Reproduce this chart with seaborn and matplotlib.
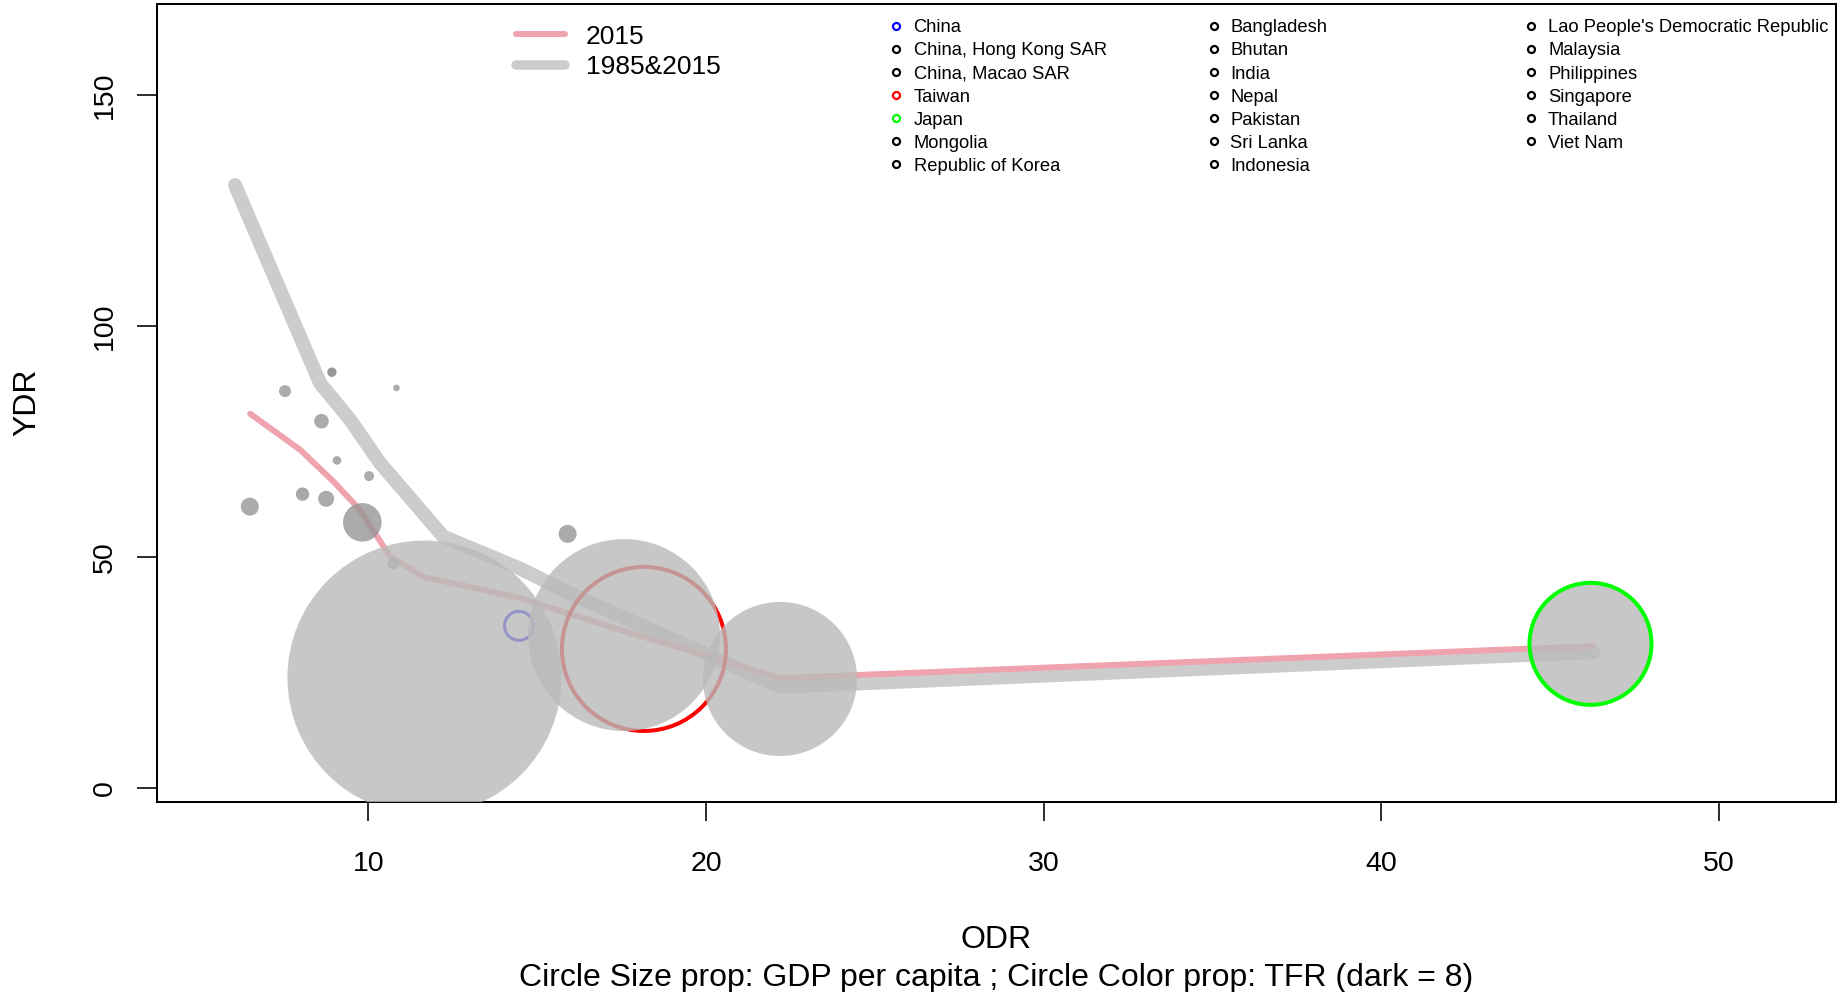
import matplotlib
matplotlib.use("Agg")
import matplotlib.pyplot as plt
import numpy as np
import pandas as pd
import seaborn as sns
from matplotlib.lines import Line2D

# ---------------------------------------------------------------------------
# Data
# ---------------------------------------------------------------------------
# Smoothed YDR ~ ODR curve over both years (1985 & 2015)
curve_all_odr = [6.05, 8.57, 9.46, 10.15, 10.35, 12.22, 14.49, 16.17, 22.19, 46.27]
curve_all_ydr = [130.5, 87.6, 79.7, 72.4, 70.3, 54.4, 47.5, 41.4, 21.9, 29.4]

# Smoothed YDR ~ ODR curve for 2015 only
curve_2015_odr = [6.50, 7.98, 8.97, 9.75, 10.64, 11.63, 14.49, 17.46, 20.72, 22.19, 46.24]
curve_2015_ydr = [81.0, 73.2, 66.3, 60.2, 50.1, 45.7, 41.1, 34.2, 27.1, 23.8, 30.7]

# Country bubbles (2015): old-age / young dependency ratio, GDP per capita, TFR
bubble_odr = [6.49, 7.53, 8.05, 8.61, 8.75, 8.92, 9.07, 10.02, 10.83, 9.82, 15.90, 10.74,
              11.66, 17.57, 22.19, 46.19]
bubble_ydr = [60.9, 85.9, 63.6, 79.4, 62.6, 90.0, 70.9, 67.5, 86.6, 57.5, 55.0, 48.6,
              23.9, 33.1, 23.6, 31.2]
bubble_gdp = [5090, 3390, 3790, 4130, 4520, 2660, 2430, 2830, 1870, 10900, 5090, 3390,
              77500, 54300, 43600, 34500]
bubble_tfr = [3.3, 3.3, 3.4, 3.3, 3.3, 4.0, 3.3, 3.2, 3.3, 3.3, 3.3, 3.4,
              2.16, 2.16, 2.16, 2.16]

# Highlighted economies drawn as coloured rings
ring_names = ["China", "Taiwan", "Japan"]
ring_odr = [14.46, 18.16, 46.19]
ring_ydr = [35.1, 30.1, 31.2]
ring_gdp = [8200, 46400, 34500]
ring_colors = ["#0000FF", "#FF0000", "#00FF00"]

# Legend of economies (three columns)
legend_countries = [
    "China", "China, Hong Kong SAR", "China, Macao SAR", "Taiwan", "Japan", "Mongolia",
    "Republic of Korea",
    "Bangladesh", "Bhutan", "India", "Nepal", "Pakistan", "Sri Lanka", "Indonesia",
    "Lao People's Democratic Republic", "Malaysia", "Philippines", "Singapore",
    "Thailand", "Viet Nam",
]
legend_rows_per_col = 7

# ---------------------------------------------------------------------------
# Styling helpers
# ---------------------------------------------------------------------------
DPI = 100
W, H = 1839, 992
RADIUS_PX_PER_USD = 61.0 / 34500.0   # bubble radius proportional to GDP per capita
BUBBLE_ALPHA = 0.8


def pt(px):
    return px * 72.0 / DPI


def bubble_area(gdp):
    r_px = np.asarray(gdp, dtype=float) * RADIUS_PX_PER_USD
    return (2 * pt(r_px)) ** 2


sns.set_style("ticks", {"axes.edgecolor": "black", "xtick.color": "black",
                        "ytick.color": "black", "text.color": "black",
                        "axes.labelcolor": "black"})
plt.rcParams["font.family"] = ["Liberation Sans", "DejaVu Sans"]

fig = plt.figure(figsize=(W / DPI, H / DPI), dpi=DPI)
ax = fig.add_axes([157 / W, 1 - 802 / H, (1836 - 157) / W, (802 - 3.5) / H])

# ---------------------------------------------------------------------------
# Curves
# ---------------------------------------------------------------------------
sns.lineplot(x=curve_all_odr, y=curve_all_ydr, sort=False, estimator=None,
             color="#CCCCCC", linewidth=pt(14), solid_capstyle="round",
             solid_joinstyle="round", ax=ax, zorder=2)
sns.lineplot(x=curve_2015_odr, y=curve_2015_ydr, sort=False, estimator=None,
             color="#EFA3AE", linewidth=pt(6), solid_capstyle="round",
             solid_joinstyle="round", ax=ax, zorder=2.1)

# ---------------------------------------------------------------------------
# Bubbles
# ---------------------------------------------------------------------------
bubbles = pd.DataFrame({"odr": bubble_odr, "ydr": bubble_ydr,
                        "gdp": bubble_gdp, "tfr": bubble_tfr})
rings = pd.DataFrame({"name": ring_names, "odr": ring_odr, "ydr": ring_ydr,
                      "gdp": ring_gdp, "color": ring_colors})
grey_cmap = matplotlib.colormaps["gray_r"]


def draw_bubbles(part, z):
    sns.scatterplot(data=part, x="odr", y="ydr", hue="tfr", hue_norm=(0, 8),
                    palette=grey_cmap, s=bubble_area(part["gdp"]),
                    alpha=BUBBLE_ALPHA, linewidth=0, edgecolor="none",
                    legend=False, ax=ax, zorder=z)


def draw_rings(part, widths_px, z):
    sns.scatterplot(data=part, x="odr", y="ydr", s=bubble_area(part["gdp"]),
                    facecolors="none", edgecolor=list(part["color"]),
                    linewidth=[pt(w) for w in widths_px], legend=False, ax=ax, zorder=z)


draw_bubbles(bubbles[bubbles["gdp"] < 20000], 3.0)
draw_rings(rings[rings["name"] != "Japan"], [3, 4], 3.1)
draw_bubbles(bubbles[bubbles["gdp"] >= 20000], 3.2)
draw_rings(rings[rings["name"] == "Japan"], [4], 3.3)

# ---------------------------------------------------------------------------
# Axes
# ---------------------------------------------------------------------------
ax.set_xlim(3.74, 53.46)
ax.set_ylim(-3.03, 169.8)
ax.set_xticks([10, 20, 30, 40, 50])
ax.set_yticks([0, 50, 100, 150])
for s in ax.spines.values():
    s.set_visible(True)
    s.set_linewidth(pt(2))
    s.set_color("black")
ax.tick_params(axis="x", direction="out", length=pt(19), width=pt(1.6),
               labelsize=20.5, pad=21.5)
ax.tick_params(axis="y", direction="out", length=pt(20), width=pt(1.6),
               labelsize=20.5, pad=13.7, labelrotation=90)
plt.setp(ax.get_yticklabels(), va="center")

ax.set_xlabel("ODR", fontsize=23, va="center")
ax.xaxis.set_label_coords(0.5, -0.1733)
ax.set_ylabel("YDR", fontsize=23, va="center")
ax.yaxis.set_label_coords(-0.0774, 0.5)

fig.text((157 + 1836) / 2 / W, 1 - 978 / H,
         "Circle Size prop: GDP per capita ; Circle Color prop: TFR (dark = 8)",
         ha="center", va="center", fontsize=23)

# ---------------------------------------------------------------------------
# Legends (placed in pixel coordinates)
# ---------------------------------------------------------------------------
def fx(px):
    return px / W


def fy(px):
    return 1 - px / H


line_keys = [("2015", "#EFA3AE", pt(6)), ("1985&2015", "#CCCCCC", pt(9.5))]
for i, (label, color, lw) in enumerate(line_keys):
    y = 34 + 30.5 * i
    fig.add_artist(Line2D([fx(516), fx(565)], [fy(y), fy(y)], color=color, lw=lw,
                          solid_capstyle="round", transform=fig.transFigure))
    fig.text(fx(586), fy(y + 9.6), label, fontsize=19, ha="left", va="baseline")

col_marker_x = [896, 1214, 1531]
col_text_x = [913.5, 1230.5, 1548]
ring_color_of = dict(zip(ring_names, ring_colors))
for i, name in enumerate(legend_countries):
    col, row = divmod(i, legend_rows_per_col)
    y = 25.8 + 23.07 * row
    fig.add_artist(Line2D([fx(col_marker_x[col])], [fy(y)], marker="o", linestyle="none",
                          markersize=pt(7), markerfacecolor="none",
                          markeredgecolor=ring_color_of.get(name, "black"),
                          markeredgewidth=pt(2.2), transform=fig.transFigure))
    fig.text(fx(col_text_x[col]), fy(y + 6.6), name, fontsize=13.2,
             ha="left", va="baseline")

fig.savefig("out.png", dpi=DPI)
